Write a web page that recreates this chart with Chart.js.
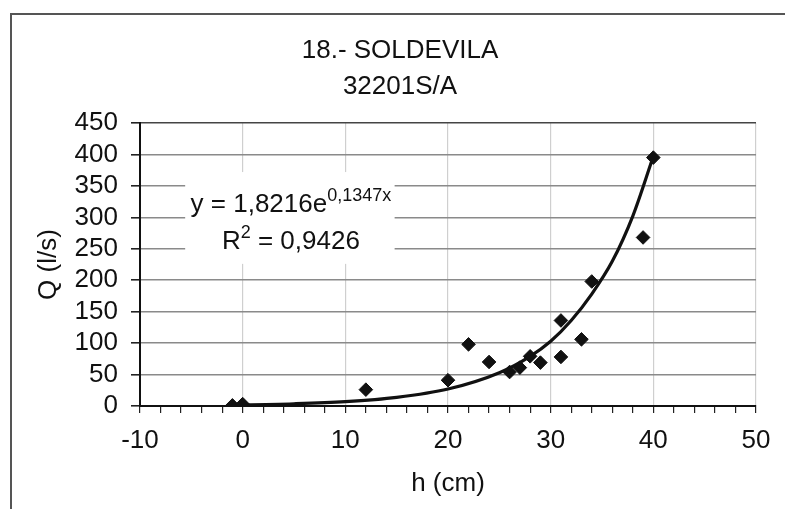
<!DOCTYPE html>
<html>
<head>
<meta charset="utf-8">
<script src="https://cdn.jsdelivr.net/npm/chart.js@4.4.1/dist/chart.umd.min.js"></script>
<style>
  html, body { margin: 0; padding: 0; background: #fff; }
  canvas { display: block; }
</style>
</head>
<body>
<canvas id="myChart" width="785" height="509"></canvas>
<script>
// 測定値 h (cm), Q (l/s)
var hValues = [-1, 0, 12, 20, 22, 24, 26, 27, 28, 29, 31, 31, 33, 34, 39, 40];
var qValues = [1, 3, 26, 41, 98, 70, 54, 61, 79, 69, 136, 78, 106, 198, 268, 395];

// 近似曲線
var curveH = [-1, 0, 5, 10, 15, 20, 25, 28, 30, 32, 34, 36, 38, 40];
var curveQ = [1.6, 1.8, 3.6, 7, 13.8, 27, 53, 79, 103, 136, 178, 230, 302, 397];

var titleLines = ['18.- SOLDEVILA', '32201S/A'];
var xTicks = [-10, 0, 10, 20, 30, 40, 50];
var yTicks = [0, 50, 100, 150, 200, 250, 300, 350, 400, 450];
var eqMain = 'y = 1,8216e';
var eqExp = '0,1347x';
var r2Main = 'R';
var r2Exp = '2';
var r2Rest = ' = 0,9426';

var FONT = '"Liberation Sans", Arial, sans-serif';
var INK = '#111';

function toPoints(xs, ys) {
  var pts = [];
  for (var i = 0; i < xs.length; ++i) {
    pts.push({ x: xs[i], y: ys[i] });
  }
  return pts;
}

// 外枠
var framePlugin = {
  id: 'frame',
  beforeDraw: function(chart) {
    var ctx = chart.ctx;
    ctx.save();
    ctx.fillStyle = '#fff';
    ctx.fillRect(0, 0, chart.width, chart.height);
    ctx.strokeStyle = '#555';
    ctx.lineWidth = 2;
    ctx.beginPath();
    ctx.moveTo(11, chart.height);
    ctx.lineTo(11, 14);
    ctx.lineTo(chart.width, 14);
    ctx.stroke();
    ctx.restore();
  }
};

// 近似式のラベル（白地つき）
var equationPlugin = {
  id: 'equation',
  beforeDatasetsDraw: function(chart) {
    var ctx = chart.ctx;
    var sx = chart.scales.x, sy = chart.scales.y;
    ctx.save();
    ctx.fillStyle = '#fff';
    var l = sx.getPixelForValue(-5.6), r = sx.getPixelForValue(14.8);
    var t = sy.getPixelForValue(372), b = sy.getPixelForValue(226);
    ctx.fillRect(l, t, r - l, b - t);
    ctx.restore();
  },
  afterDatasetsDraw: function(chart) {
    var ctx = chart.ctx;
    var sx = chart.scales.x, sy = chart.scales.y;
    var cx = sx.getPixelForValue(4.7);
    var big = '26px ' + FONT, small = '18px ' + FONT;
    ctx.save();
    ctx.fillStyle = INK;
    ctx.textBaseline = 'alphabetic';
    ctx.textAlign = 'left';

    // 1行目
    var y1 = sy.getPixelForValue(309);
    ctx.font = big;
    var w1 = ctx.measureText(eqMain).width;
    ctx.font = small;
    var w2 = ctx.measureText(eqExp).width;
    var x0 = cx - (w1 + w2) / 2;
    ctx.font = big;
    ctx.fillText(eqMain, x0, y1);
    ctx.font = small;
    ctx.fillText(eqExp, x0 + w1, y1 - 11);

    // 2行目
    var y2 = sy.getPixelForValue(249);
    ctx.font = big;
    var a = ctx.measureText(r2Main).width;
    var c = ctx.measureText(r2Rest).width;
    ctx.font = small;
    var b = ctx.measureText(r2Exp).width;
    x0 = cx - (a + b + c) / 2;
    ctx.font = big;
    ctx.fillText(r2Main, x0, y2);
    ctx.font = small;
    ctx.fillText(r2Exp, x0 + a, y2 - 11);
    ctx.font = big;
    ctx.fillText(r2Rest, x0 + a + b, y2);
    ctx.restore();
  }
};

function mainChart() {
  var ctx = document.getElementById('myChart');
  var myChart = new Chart(ctx, {
    type: 'scatter',
    data: {
      datasets: [
        {
          label: 'Q',
          data: toPoints(hValues, qValues),
          pointStyle: 'rectRot',
          pointRadius: 6.8,
          pointBackgroundColor: '#111',
          pointBorderColor: '#111',
          pointBorderWidth: 1,
          showLine: false,
          order: 1
        },
        {
          label: 'trend',
          data: toPoints(curveH, curveQ),
          showLine: true,
          borderColor: '#111',
          borderWidth: 3.2,
          pointRadius: 0,
          cubicInterpolationMode: 'monotone',
          fill: false,
          order: 2
        }
      ]
    },
    options: {
      responsive: false,
      devicePixelRatio: 1,
      animation: false,
      layout: { padding: { left: 44, right: 29, top: 0, bottom: 0 } },
      plugins: {
        legend: { display: false },
        tooltip: { enabled: false },
        title: {
          display: true,
          text: titleLines,
          color: INK,
          font: { family: FONT, size: 26, weight: 'normal', lineHeight: 36 / 26 },
          padding: { top: 33, bottom: 18 }
        }
      },
      scales: {
        x: {
          type: 'linear',
          min: -10,
          max: 50,
          afterFit: function(scale) { scale.height = 103; },
          afterBuildTicks: function(scale) {
            var t = [];
            for (var v = -10; v <= 50; v += 2) t.push({ value: v });
            scale.ticks = t;
          },
          ticks: {
            autoSkip: false,
            maxRotation: 0,
            padding: 12,
            color: INK,
            font: { family: FONT, size: 26 },
            callback: function(v) { return xTicks.indexOf(v) >= 0 ? String(v) : ''; }
          },
          grid: {
            color: function(c) { return xTicks.indexOf(c.tick.value) >= 0 ? '#cfcfcf' : 'rgba(0,0,0,0)'; },
            lineWidth: 1.2,
            tickColor: '#222',
            tickLength: 7
          },
          border: { display: true, color: '#111', width: 2 },
          title: {
            display: true,
            text: 'h (cm)',
            color: INK,
            font: { family: FONT, size: 26 },
            padding: { top: 0, bottom: 10 }
          }
        },
        y: {
          min: 0,
          max: 450,
          afterFit: function(scale) { scale.width = 96; },
          afterBuildTicks: function(scale) {
            scale.ticks = yTicks.map(function(v) { return { value: v }; });
          },
          ticks: {
            autoSkip: false,
            padding: 13,
            color: INK,
            font: { family: FONT, size: 26 }
          },
          grid: {
            color: function(c) { return c.tick.value === 450 ? '#444' : '#8a8a8a'; },
            lineWidth: 1.6,
            tickColor: '#222',
            tickLength: 9
          },
          border: { display: true, color: '#111', width: 2 },
          title: {
            display: true,
            text: 'Q (l/s)',
            color: INK,
            font: { family: FONT, size: 26, lineHeight: 0.38 },
            padding: { top: 0, bottom: 0 }
          }
        }
      }
    },
    plugins: [framePlugin, equationPlugin]
  });
}

mainChart();
</script>
</body>
</html>
